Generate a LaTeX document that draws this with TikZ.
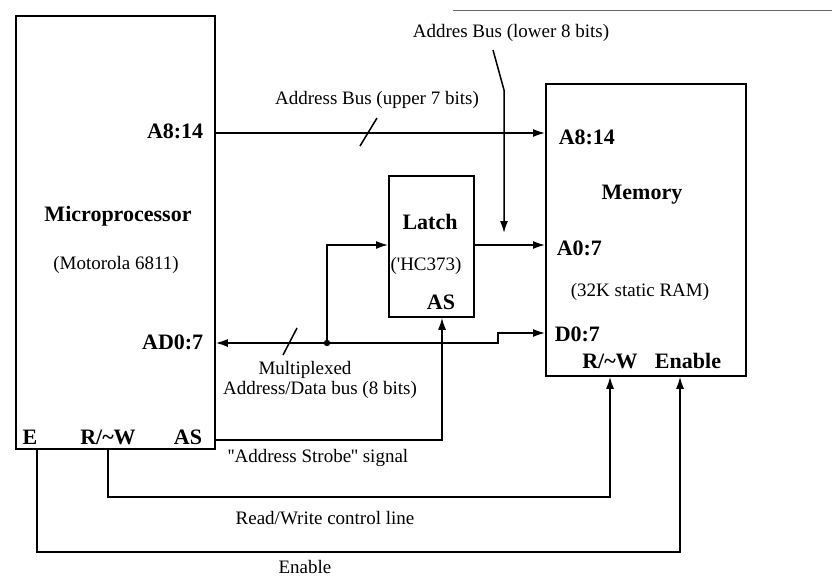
\documentclass[tikz,border=0pt]{standalone}
\usepackage{fontspec}
\setmainfont{Liberation Serif}
\usetikzlibrary{arrows.meta}
\begin{document}
\begin{tikzpicture}[x=1pt,y=-1pt, line width=1.5pt,
  box/.style={draw, line width=1.8pt, inner sep=0pt, anchor=north west},
  bl/.style={font=\fontsize{22}{25}\selectfont\bfseries, inner sep=0pt},
  rl/.style={font=\fontsize{19}{22}\selectfont, inner sep=0pt},
  arr/.style={-{Latex[length=12pt,width=8pt]}},
  slash/.style={line width=1.5pt}]
\useasboundingbox (0,0) rectangle (832,579);
% scan edge at top
\draw[line width=1pt, black!60] (453,10) -- (832,10);
% boxes
\node[box, minimum width=199pt, minimum height=433pt] (mp) at (15,15) {};
\node[box, minimum width=200pt, minimum height=292pt] (mem) at (545,83) {};
\node[box, minimum width=85pt, minimum height=141pt] (latch) at (388,175) {};
% microprocessor texts
\node[bl, anchor=east] (mpA) at (204,131) {A8:14};
\node[bl] (mpT) at (118,216) {Microprocessor};
\node[rl] (mpS) at (116,265) {(Motorola 6811)};
\node[bl, anchor=east] (mpAD) at (204,342) {AD0:7};
\node[bl] (mpE) at (30,437) {E};
\node[bl] (mpRW) at (108,437) {R/\textasciitilde W};
\node[bl] (mpAS) at (188,437) {AS};
% memory texts
\node[bl, anchor=west] (memA) at (558,137) {A8:14};
\node[bl] (memT) at (642,195) {Memory};
\node[bl, anchor=west] (memA0) at (556,248) {A0:7};
\node[rl] (memS) at (640,292) {(32K static RAM)};
\node[bl, anchor=west] (memD) at (554,334) {D0:7};
\node[bl] (memRW) at (610,361) {R/\textasciitilde W};
\node[bl] (memEn) at (688,361) {Enable};
% latch texts
\node[bl] (laT) at (430,222) {Latch};
\node[rl] (laS) at (426,266) {(\textquotesingle HC373)};
\node[bl] (laAS) at (441,302) {AS};
% free labels
\node[rl] (lLow) at (511,33) {Addres Bus (lower 8 bits)};
\node[rl] (lUp) at (377,100) {Address Bus (upper 7 bits)};
\node[rl] (lMux1) at (305,370) {Multiplexed};
\node[rl] (lMux2) at (320,390) {Address/Data bus (8 bits)};
\node[rl] (lAS) at (318,458) {\textquotesingle\textquotesingle Address Strobe\textquotesingle\textquotesingle\ signal};
\node[rl] (lRW) at (325,518) {Read/Write control line};
\node[rl] (lEn) at (305,567) {Enable};
% coordinates
\coordinate (j) at (327,343);
\coordinate (lowA) at (493,50);
\coordinate (lowB) at (504,90);
\coordinate (lowC) at (504,233);
% A8:14 bus
\draw[arr] (mp.east |- 0,133) -- (mem.west |- 0,133);
\draw[slash] (377,118) -- (360,146);
% lower 8 bits leader
\draw[arr] (lowA) -- (lowB) -- (lowC);
% latch out
\draw[arr] (latch.east |- 0,245) -- (mem.west |- 0,245);
% multiplexed bus
\draw[arr] (j) -- (mp.east |- j);
\draw[slash] (297,328) -- (283,355);
\draw[arr] (j) -- (327,245) -- (latch.west |- 0,245);
\draw[arr] (j) -- (498,343) -- (498,333) -- (mem.west |- 0,333);
\fill (j) circle (3.2pt);
% address strobe
\draw[arr] (mp.east |- 0,440) -- (442,440) -- (latch.south -| 442,0);
% read/write
\draw[arr] (mp.south -| 108,0) -- (108,497) -- (610,497) -- (mem.south -| 610,0);
% enable
\draw[arr] (mp.south -| 37,0) -- (37,552) -- (680,552) -- (mem.south -| 680,0);
\end{tikzpicture}
\end{document}
